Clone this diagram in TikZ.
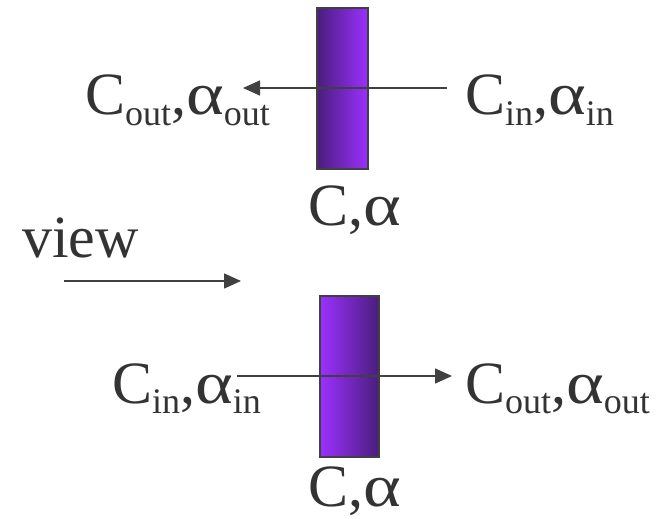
\documentclass[tikz,border=0pt]{standalone}
\usepackage{fontspec}
\setmainfont{Liberation Serif}
\usetikzlibrary{arrows.meta}
\definecolor{txt}{HTML}{333333}
\definecolor{ln}{HTML}{404040}
\definecolor{pdark}{HTML}{4A1E7C}
\definecolor{pbright}{HTML}{9B30FF}
\newcommand\sbx[1]{\raisebox{-10pt}{\fontsize{36}{36}\selectfont #1}}
\newcommand\alx{\scalebox{1.2}[1]{α}}
\tikzset{
  lbl/.style={anchor=base west, inner sep=0pt, text=txt, font=\fontsize{60}{60}\selectfont},
  slab/.style={draw=ln, line width=1.5pt, minimum width=51pt, minimum height=161pt, inner sep=0pt},
  ray/.style={draw=ln, line width=1.5pt, -{Triangle[length=17pt,width=15pt]}}
}
\begin{document}
\begin{tikzpicture}[x=1pt,y=-1pt]
\useasboundingbox (0,0) rectangle (665,519);
% top element
\node[slab, left color=pdark, right color=pbright] (s1) at (342.5,88.5) {};
\coordinate (t1) at (447,88);
\coordinate (t2) at (243,88);
\draw[ray] (t1) -- (t2);
\node[lbl] (toutl) at (85,115) {C\sbx{out},\alx\sbx{out}};
\node[lbl] (tinr) at (465,115) {C\sbx{in},\alx\sbx{in}};
\node[lbl] (tca) at (308,225) {C,\alx};
% view
\node[lbl] (view) at (22,257) {view};
\coordinate (v1) at (64,281);
\coordinate (v2) at (241,281);
\draw[ray] (v1) -- (v2);
% bottom element
\node[slab, left color=pbright, right color=pdark, minimum width=59pt] (s2) at (349.5,376.5) {};
\coordinate (b1) at (237,376);
\coordinate (b2) at (452,376);
\draw[ray] (b1) -- (b2);
\node[lbl] (binl) at (112,403) {C\sbx{in},\alx\sbx{in}};
\node[lbl] (boutr) at (465,403) {C\sbx{out},\alx\sbx{out}};
\node[lbl] (bca) at (308,506) {C,\alx};
\end{tikzpicture}
\end{document}
